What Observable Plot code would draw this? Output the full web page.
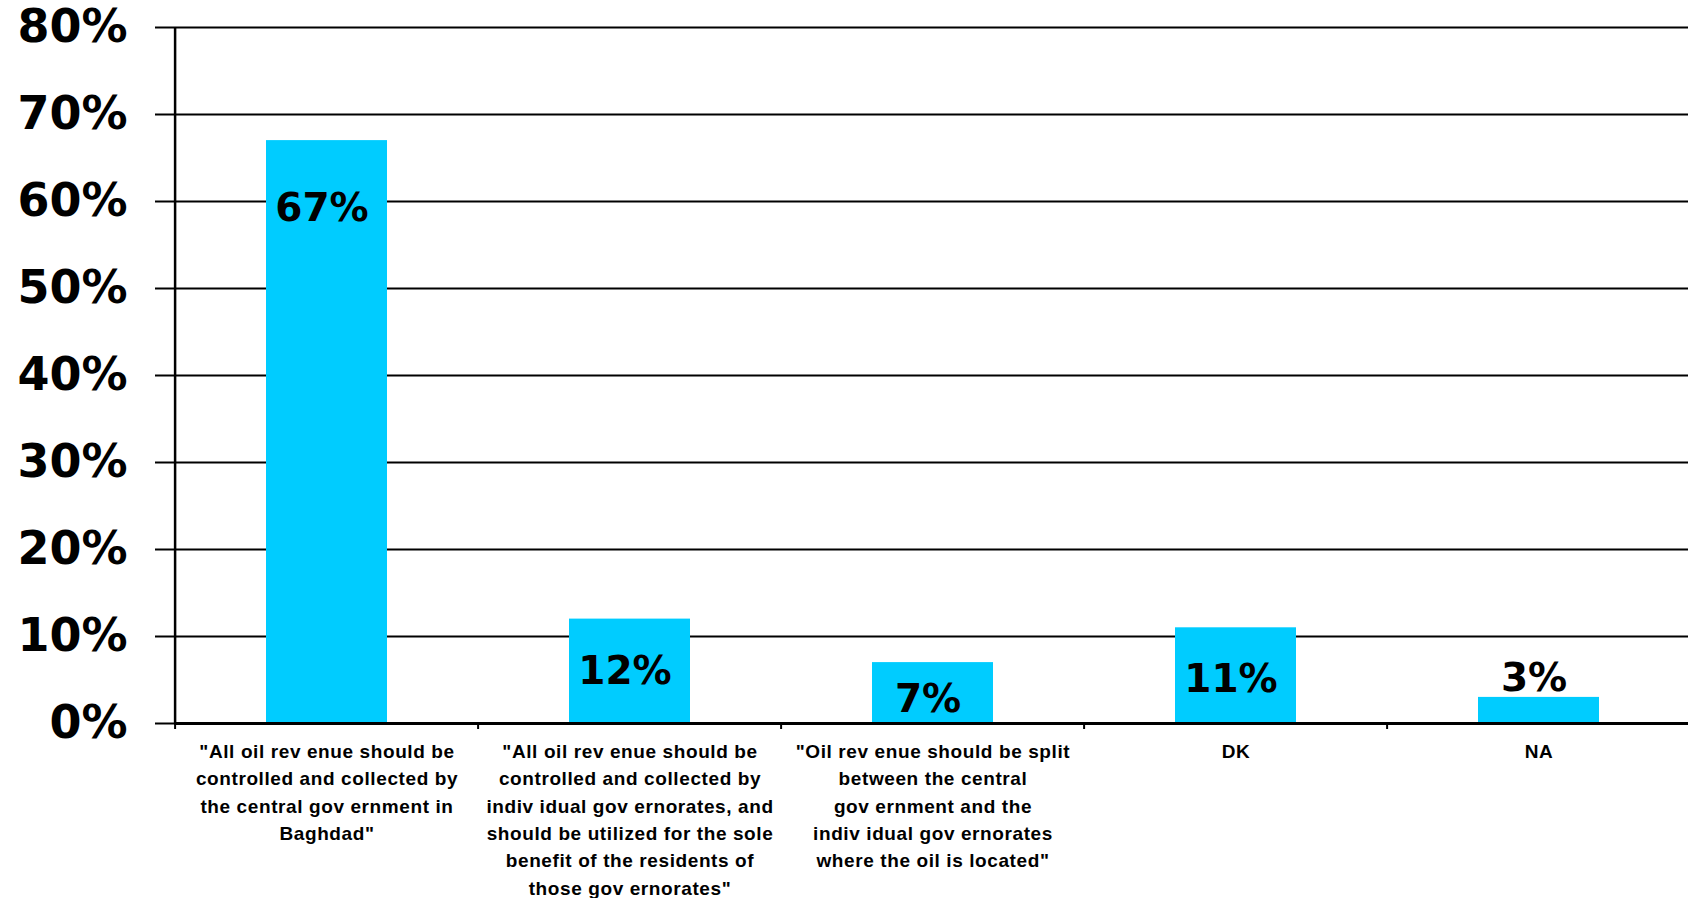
<!DOCTYPE html>
<html>
<head>
<meta charset="utf-8">
<script src="https://cdn.jsdelivr.net/npm/d3@7"></script>
<script src="https://cdn.jsdelivr.net/npm/@observablehq/plot@0.6"></script>
<style>
  html, body { margin: 0; padding: 0; background: #fff; }
  #chart { width: 1688px; height: 898px; overflow: hidden; }
  g[aria-label="x-axis tick label"] text { letter-spacing: 0.6px; }
</style>
</head>
<body>
<div id="chart"></div>
<script>
const categories = [
  '"All oil rev enue should be\ncontrolled and collected by\nthe central gov ernment in\nBaghdad"',
  '"All oil rev enue should be\ncontrolled and collected by\nindiv idual gov ernorates, and\nshould be utilized for the sole\nbenefit of the residents of\nthose gov ernorates"',
  '"Oil rev enue should be split\nbetween the central\ngov ernment and the\nindiv idual gov ernorates\nwhere the oil is located"',
  'DK',
  'NA'
];
const values = [67, 12, 7, 11, 3];
const valueLabels = ["67%", "12%", "7%", "11%", "3%"];
const yTicks = [0, 10, 20, 30, 40, 50, 60, 70, 80];

// label offsets (px below bar top) — styling
const labelDy = [68, 52, 37, 52, -19];

const W = 1688, H = 898, ML = 174, MT = 27, MB = 175;
const xLeft = 173, xRight = 1692; // plot area extends slightly past the right edge
const step = (xRight - xLeft) / categories.length;
const font = "'Liberation Sans', Arial, Helvetica, sans-serif";
const bigFont = "'DejaVu Sans', sans-serif";
const data = categories.map((c, i) => ({cat: c, value: values[i], label: valueLabels[i], i}));

const chart = Plot.plot({
  width: W,
  height: H,
  marginLeft: ML,
  marginRight: 0,
  marginTop: MT,
  marginBottom: MB,
  style: {fontFamily: font, color: "#000", background: "#fff"},
  x: {domain: categories, range: [xLeft, xRight], paddingInner: 0.6, paddingOuter: 0.3, label: null},
  y: {domain: [0, 80], label: null},
  marks: [
    Plot.ruleY(yTicks, {stroke: "#000", strokeWidth: 2}),
    Plot.barY(data, {x: "cat", y: "value", fill: "#00CCFF"}),
    Plot.ruleY([0], {stroke: "#000", strokeWidth: 3}),
    Plot.ruleX([categories[0]], {x: d => d, dx: -step / 2, y1: 0, y2: 80, stroke: "#000", strokeWidth: 2.5}),
    Plot.ruleX(categories, {x: d => d, dx: -step / 2, y1: 0, y2: 0, insetBottom: -6, stroke: "#000", strokeWidth: 2}),
    Plot.axisY({
      ticks: yTicks, tickSize: 19, tickPadding: 28, tickFormat: d => d + "%",
      fontSize: 46, fontWeight: "bold", fontFamily: bigFont,
      stroke: "#000", strokeWidth: 2, label: null
    }),
    Plot.axisX({
      tickSize: 0, tickPadding: 15, fontSize: 19, fontWeight: "bold",
      lineHeight: 1.44, label: null
    }),
    ...data.map(d => Plot.text([d], {
      x: "cat", y: "value", text: "label", dy: labelDy[d.i], dx: -5,
      fontSize: 39, fontWeight: "bold", fontFamily: bigFont,
      fill: "#000", lineAnchor: "middle"
    }))
  ]
});
document.getElementById("chart").appendChild(chart);
</script>
</body>
</html>
